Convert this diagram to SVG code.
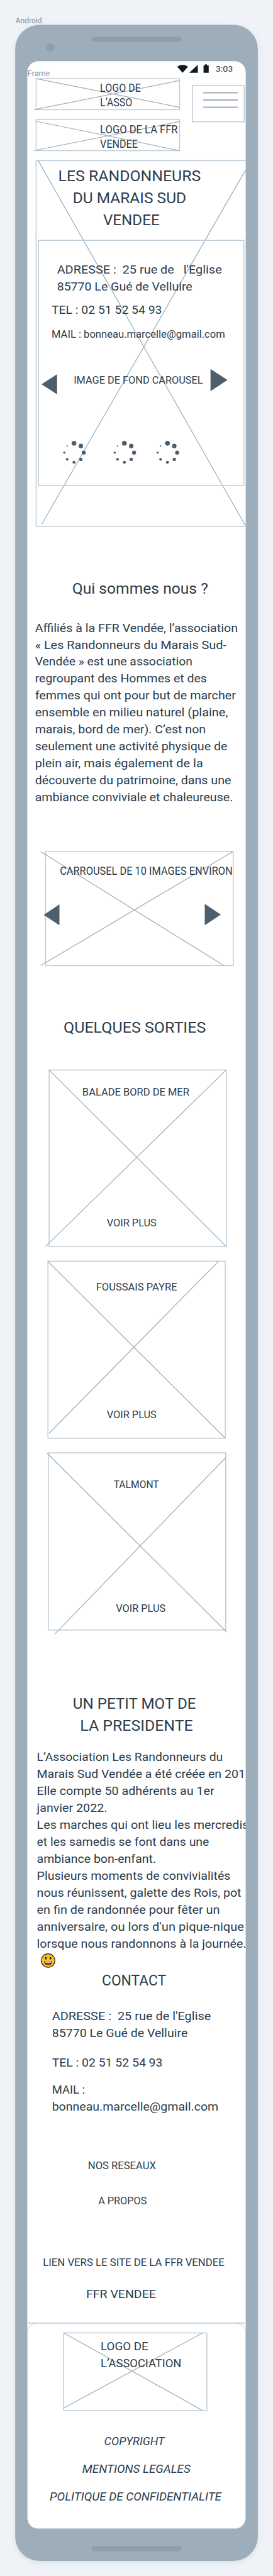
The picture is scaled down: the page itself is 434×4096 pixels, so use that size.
<svg xmlns="http://www.w3.org/2000/svg" width="434" height="4096" viewBox="0 0 434 4096">
<style>
text{font-family:Roboto,"DejaVu Sans",sans-serif;fill:#2b3c4c}
.t18{font-size:18.6px}.t16{font-size:17px}.t25{font-size:25.300px}.it{font-size:19px;font-style:italic}
.lbl{font-size:12.5px;fill:#8090a0}
.box{fill:none;stroke:#bccad6;stroke-width:1.5}
.x{stroke:#9eadba;stroke-width:1.3;fill:none}
.arrow,.dot{fill:#4d5e6d}
</style>
<defs>
<clipPath id="screen"><rect x="45" y="101" width="360" height="4071" rx="18"/></clipPath>
<filter id="soft" x="-10%" y="-2%" width="120%" height="104%"><feGaussianBlur stdDeviation="5"/></filter>
<g id="spin">
<circle class="dot" cx="0" cy="-15.4" r="4"/><circle class="dot" cx="11.3" cy="-10.9" r="3.7"/><circle class="dot" cx="16" cy="0" r="3.3"/><circle class="dot" cx="11.3" cy="11.2" r="2.7"/><circle class="dot" cx="0" cy="16" r="2.5"/><circle class="dot" cx="-11.3" cy="11.2" r="2.2"/><circle class="dot" cx="-16" cy="0" r="1.8"/><circle class="dot" cx="-11.3" cy="-10.9" r="1.1"/>
</g>
</defs>
<rect width="434" height="4096" fill="#eff3f7"/>
<g transform="scale(0.96444 0.96376)">
<text class="lbl" x="25.5" y="38" textLength="43.5" lengthAdjust="spacingAndGlyphs">Android</text>
<g id="phone">
<rect x="25" y="44" width="400" height="4184" rx="40" fill="#8d9dac" opacity=".22" filter="url(#soft)"/>
<rect x="25" y="41" width="400" height="4184" rx="40" fill="#9eadba"/>
<rect x="151" y="61" width="148" height="8" rx="4" fill="#8d9dac"/>
<circle cx="83" cy="78" r="7" fill="#8d9dac"/>
<rect x="151" y="4201" width="148" height="8" rx="4" fill="#8d9dac"/>
<rect x="45" y="101" width="360" height="4071" rx="18" fill="#fff"/>
<rect x="45" y="127" width="360" height="1.2" fill="#f7f9fa"/>
</g>
<text class="lbl" x="45.5" y="126" textLength="36.5" lengthAdjust="spacingAndGlyphs">Frame</text>
<g id="status">
<path d="M292 110Q301 103.500 310 110L301 120Z" fill="#0f1a22"/>
<path d="M312 120L326 107V120Z" fill="#0f1a22"/>
<path d="M335.500 108H338V106H341V108H344V120H335.500Z" fill="#0f1a22"/>
<text x="355.500" y="118.500" font-size="14" textLength="28.500" lengthAdjust="spacingAndGlyphs">3:03</text>
</g>
<g clip-path="url(#screen)">
<g id="logo-asso">
<rect class="box" x="59.500" y="130" width="236.500" height="51"/>
<path class="x" d="M59 129.500L296 177M56 181L296 133"/>
<text class="t18" x="165" y="151.500" textLength="67" lengthAdjust="spacingAndGlyphs">LOGO DE</text>
<text class="t18" x="165" y="175" textLength="53" lengthAdjust="spacingAndGlyphs">L’ASSO</text>
</g>
<g id="logo-ffr">
<rect class="box" x="59.500" y="197" width="236.500" height="51.500"/>
<path class="x" d="M59 200L296 248.500M56 248.500L296 200.500"/>
<text class="t18" x="165" y="219.500" textLength="128" lengthAdjust="spacingAndGlyphs">LOGO DE LA FFR</text>
<text class="t18" x="165" y="243.500" textLength="62" lengthAdjust="spacingAndGlyphs">VENDEE</text>
</g>
<g id="menu">
<rect class="box" x="317" y="141" width="85.500" height="60"/>
<path d="M335 153H392M335 165H392M335 177H392" stroke="#9eadba" stroke-width="2" fill="none"/>
</g>
<g id="hero">
<rect class="box" x="59.500" y="265" width="350" height="603.400"/>
<path class="x" d="M63 265L404.500 867.400M405 280L69 864.600"/>
<text class="t25" x="96" y="299" textLength="235" lengthAdjust="spacingAndGlyphs">LES RANDONNEURS</text>
<text class="t25" x="120" y="335" textLength="187" lengthAdjust="spacingAndGlyphs">DU MARAIS SUD</text>
<text class="t25" x="170" y="371.500" textLength="93" lengthAdjust="spacingAndGlyphs">VENDEE</text>
<rect class="box" x="63.500" y="396.600" width="338.500" height="404.400"/>
<text class="t18" x="94" y="451.700" textLength="271.700" lengthAdjust="spacingAndGlyphs" xml:space="preserve">ADRESSE :  25 rue de   l'Eglise</text>
<text class="t18" x="94" y="479.800" textLength="223" lengthAdjust="spacingAndGlyphs">85770 Le Gué de Velluire</text>
<text class="t18" x="85" y="518" textLength="182" lengthAdjust="spacingAndGlyphs">TEL : 02 51 52 54 93</text>
<text class="t16" x="85" y="557" textLength="286" lengthAdjust="spacingAndGlyphs">MAIL : bonneau.marcelle@gmail.com</text>
<path class="arrow" d="M68.500 634L94 617.300V650.600Z"/>
<path class="arrow" d="M347 608.900L375 627L347 645.300Z"/>
<text class="t16" x="121.500" y="633.400" textLength="213" lengthAdjust="spacingAndGlyphs">IMAGE DE FOND CAROUSEL</text>
<use href="#spin" x="122" y="746.700"/><use href="#spin" x="205" y="746.700"/><use href="#spin" x="276" y="746.700"/>
</g>
<g id="qui-sommes-nous">
<text class="t25" x="119" y="979.300" textLength="224" lengthAdjust="spacingAndGlyphs">Qui sommes nous ?</text>
<g class="t18">
<text x="57.700" y="1042.300" textLength="334.300" lengthAdjust="spacingAndGlyphs">Affiliés à la FFR Vendée, l’association</text>
<text x="57.700" y="1070.300" textLength="315.600" lengthAdjust="spacingAndGlyphs">« Les Randonneurs du Marais Sud-</text>
<text x="57.700" y="1098.300" textLength="259.600" lengthAdjust="spacingAndGlyphs">Vendée » est une association</text>
<text x="57.700" y="1126.300" textLength="283.300" lengthAdjust="spacingAndGlyphs">regroupant des Hommes et des</text>
<text x="57.700" y="1154.300" textLength="331" lengthAdjust="spacingAndGlyphs">femmes qui ont pour but de marcher</text>
<text x="57.700" y="1182.300" textLength="318" lengthAdjust="spacingAndGlyphs">ensemble en milieu naturel (plaine,</text>
<text x="57.700" y="1210.300" textLength="281.600" lengthAdjust="spacingAndGlyphs">marais, bord de mer). C’est non</text>
<text x="57.700" y="1238.300" textLength="317" lengthAdjust="spacingAndGlyphs">seulement une activité physique de</text>
<text x="57.700" y="1266.300" textLength="277" lengthAdjust="spacingAndGlyphs">plein air, mais également de la</text>
<text x="57.700" y="1294.300" textLength="323.300" lengthAdjust="spacingAndGlyphs">découverte du patrimoine, dans une</text>
<text x="57.700" y="1322.300" textLength="326.300" lengthAdjust="spacingAndGlyphs">ambiance conviviale et chaleureuse.</text>
</g>
</g>
<g id="carousel">
<rect class="box" x="75" y="1405" width="309.500" height="188.200"/>
<path class="x" d="M67 1405L369 1593M67 1593L384 1405"/>
<text class="t18" x="98.700" y="1443" textLength="284.600" lengthAdjust="spacingAndGlyphs">CARROUSEL DE 10 IMAGES ENVIRON</text>
<path class="arrow" d="M72 1509.500L98 1492V1526.500Z"/>
<path class="arrow" d="M337.500 1491.200L364 1509L337.500 1526.500Z"/>
</g>
<text class="t25" x="104.700" y="1703.500" textLength="234.600" lengthAdjust="spacingAndGlyphs">QUELQUES SORTIES</text>
<g id="card-1">
<rect class="box" x="81" y="1765.300" width="292" height="291.400"/>
<path class="x" d="M81 1765.300L373 2056.700M372.700 1765.300L75 2056.700"/>
<text class="t16" x="135.700" y="1807.500" textLength="176.300" lengthAdjust="spacingAndGlyphs">BALADE BORD DE MER</text>
<text class="t16" x="176" y="2023" textLength="82" lengthAdjust="spacingAndGlyphs">VOIR PLUS</text>
</g>
<g id="card-2">
<rect class="box" x="79" y="2080.800" width="292.300" height="292"/>
<path class="x" d="M79 2081L371 2372.800M360 2081L81 2364.700"/>
<text class="t16" x="158.300" y="2129" textLength="133.700" lengthAdjust="spacingAndGlyphs">FOUSSAIS PAYRE</text>
<text class="t16" x="176" y="2339.300" textLength="82" lengthAdjust="spacingAndGlyphs">VOIR PLUS</text>
</g>
<g id="card-3">
<rect class="box" x="79.700" y="2396.900" width="292.300" height="292.400"/>
<path class="x" d="M77 2396.900L374 2692.900M372 2404.900L90 2696.400"/>
<text class="t16" x="187.300" y="2454.900" textLength="74.700" lengthAdjust="spacingAndGlyphs">TALMONT</text>
<text class="t16" x="191" y="2659.400" textLength="82" lengthAdjust="spacingAndGlyphs">VOIR PLUS</text>
</g>
<g id="president">
<text class="t25" x="120" y="2819.300" textLength="203" lengthAdjust="spacingAndGlyphs">UN PETIT MOT DE</text>
<text class="t25" x="132" y="2855.300" textLength="186" lengthAdjust="spacingAndGlyphs">LA PRESIDENTE</text>
<g class="t18">
<text x="60.700" y="2905.700" textLength="306.600" lengthAdjust="spacingAndGlyphs">L’Association Les Randonneurs du</text>
<text x="60.700" y="2933.700" textLength="355" lengthAdjust="spacingAndGlyphs">Marais Sud Vendée a été créée en 2010</text>
<text x="60.700" y="2961.700" textLength="292.600" lengthAdjust="spacingAndGlyphs">Elle compte 50 adhérents au 1er</text>
<text x="60.700" y="2989.700" textLength="116" lengthAdjust="spacingAndGlyphs">janvier 2022.</text>
<text x="60.700" y="3017.700" textLength="349.300" lengthAdjust="spacingAndGlyphs">Les marches qui ont lieu les mercredis</text>
<text x="60.700" y="3045.700" textLength="284" lengthAdjust="spacingAndGlyphs">et les samedis se font dans une</text>
<text x="60.700" y="3073.700" textLength="196.600" lengthAdjust="spacingAndGlyphs">ambiance bon-enfant.</text>
<text x="60.700" y="3101.700" textLength="319.300" lengthAdjust="spacingAndGlyphs">Plusieurs moments de convivialités</text>
<text x="60.700" y="3129.700" textLength="337" lengthAdjust="spacingAndGlyphs">nous réunissent, galette des Rois, pot</text>
<text x="60.700" y="3157.700" textLength="301.600" lengthAdjust="spacingAndGlyphs">en fin de randonnée pour fêter un</text>
<text x="60.700" y="3185.700" textLength="341.600" lengthAdjust="spacingAndGlyphs">anniversaire, ou lors d'un pique-nique</text>
<text x="60.700" y="3213.700" textLength="345.300" lengthAdjust="spacingAndGlyphs">lorsque nous randonnons à la journée.</text>
</g>
<g id="emoji">
<circle cx="79.300" cy="3234.700" r="11.200" fill="#fcc21b" stroke="#222" stroke-width="1.200"/>
<ellipse cx="75.500" cy="3230.700" rx="1.400" ry="2.300" fill="#222"/><ellipse cx="83.100" cy="3230.700" rx="1.400" ry="2.300" fill="#222"/>
<path d="M72.500 3235.700H86.100Q85.500 3242.200 79.300 3242.200Q73.100 3242.200 72.500 3235.700Z" fill="#222"/>
<path d="M73.700 3236.400H84.900L84.500 3238.200H74.100Z" fill="#fff"/>
<path d="M75.800 3240.300Q79.300 3238.300 82.800 3240.300Q81 3241.600 79.300 3241.600Q77.600 3241.600 75.800 3240.300Z" fill="#e2453c"/>
</g>
</g>
<g id="contact">
<text class="t25" x="168" y="3275.700" textLength="106" lengthAdjust="spacingAndGlyphs">CONTACT</text>
<text class="t18" x="85.700" y="3333.300" textLength="262" lengthAdjust="spacingAndGlyphs" xml:space="preserve">ADRESSE :  25 rue de l'Eglise</text>
<text class="t18" x="85.700" y="3361.300" textLength="223.600" lengthAdjust="spacingAndGlyphs">85770 Le Gué de Velluire</text>
<text class="t18" x="85.700" y="3409.700" textLength="182.300" lengthAdjust="spacingAndGlyphs">TEL : 02 51 52 54 93</text>
<text class="t18" x="85.700" y="3453.700" textLength="54.300" lengthAdjust="spacingAndGlyphs">MAIL :</text>
<text class="t18" x="85.700" y="3481.700" textLength="274.300" lengthAdjust="spacingAndGlyphs">bonneau.marcelle@gmail.com</text>
<text class="t16" x="145" y="3579" textLength="112" lengthAdjust="spacingAndGlyphs">NOS RESEAUX</text>
<text class="t16" x="162" y="3636.700" textLength="80" lengthAdjust="spacingAndGlyphs">A PROPOS</text>
<text class="t16" x="70.700" y="3739" textLength="299.300" lengthAdjust="spacingAndGlyphs">LIEN VERS LE SITE DE LA FFR VENDEE</text>
<text class="t18" x="142" y="3791.700" textLength="115" lengthAdjust="spacingAndGlyphs">FFR VENDEE</text>
</g>
<g id="footer">
<rect x="45.500" y="3832.700" width="359" height="339" rx="15" fill="none" stroke="#bccad6" stroke-width="1"/>
<rect x="45" y="3831.900" width="360" height="1.600" fill="#bccad6"/>
<rect class="box" x="105" y="3849" width="236" height="128"/>
<path class="x" d="M105 3849L334 3977M105 3973L334 3849"/>
<text class="t18" x="166" y="3878" textLength="78.300" lengthAdjust="spacingAndGlyphs">LOGO DE</text>
<text class="t18" x="166" y="3906" textLength="133" lengthAdjust="spacingAndGlyphs">L’ASSOCIATION</text>
<text class="it" x="171.700" y="4033.700" textLength="99.600" lengthAdjust="spacingAndGlyphs">COPYRIGHT</text>
<text class="it" x="135.700" y="4079.700" textLength="178.300" lengthAdjust="spacingAndGlyphs">MENTIONS LEGALES</text>
<text class="it" x="82" y="4125.700" textLength="283" lengthAdjust="spacingAndGlyphs">POLITIQUE DE CONFIDENTIALITE</text>
</g>
</g>
</g>
</svg>
